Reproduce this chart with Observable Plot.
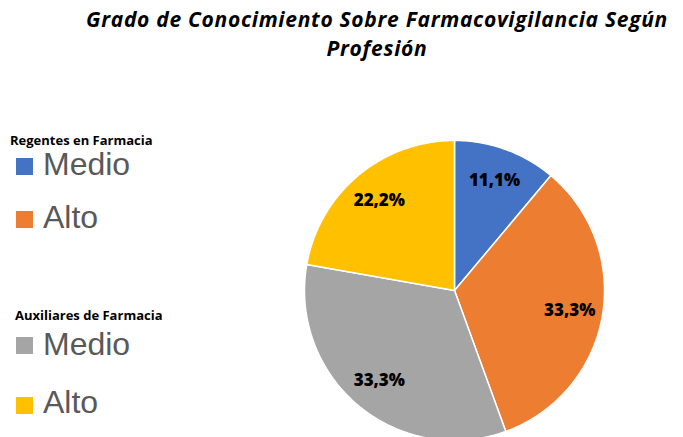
<!DOCTYPE html>
<html>
<head>
<meta charset="utf-8">
<script src="https://cdn.jsdelivr.net/npm/d3@7"></script>
<script src="https://cdn.jsdelivr.net/npm/@observablehq/plot@0.6"></script>
<style>
  html, body { margin: 0; padding: 0; background: #fff; }
  #wrap { position: relative; width: 683px; height: 437px; overflow: hidden; background: #fff; }
  .title { position: absolute; left: 0; width: 754px; text-align: center; font-family: "Open Sans", sans-serif; font-style: italic; font-weight: 700; font-size: 21px; letter-spacing: 0.7px; line-height: 29px; color: #000; white-space: nowrap; }
  .group { position: absolute; font-family: "Open Sans", sans-serif; font-weight: 700; font-size: 13px; line-height: 13px; color: #000; white-space: nowrap; }
  .item { position: absolute; font-family: "Liberation Sans", Arial, sans-serif; font-size: 32px; line-height: 32px; color: #595959; white-space: nowrap; }
  .sw { position: absolute; width: 17px; height: 17px; }
  #chart { position: absolute; left: 304px; top: 140px; }
</style>
</head>
<body>
<div id="wrap">
  <div class="title" style="top:5px">Grado de Conocimiento Sobre Farmacovigilancia Según</div>
  <div class="title" style="top:34px">Profesión</div>
  <div id="legend"></div>
  <div id="chart"></div>
</div>
<script>
// Data
const groups = ["Regentes en Farmacia", "Auxiliares de Farmacia"];
const levels = ["Medio", "Alto"];
const sliceGroup = ["Regentes en Farmacia", "Regentes en Farmacia", "Auxiliares de Farmacia", "Auxiliares de Farmacia"];
const sliceLevel = ["Medio", "Alto", "Medio", "Alto"];
const sliceCount = [1, 3, 3, 2];
const sliceColors = ["#4472C4", "#ED7D31", "#A5A5A5", "#FFC000"];

// Legend (HTML)
const legend = document.getElementById("legend");
const groupTops = [133.5, 308.5];
const itemTops = [[148, 201], [328, 386]];
const swTops = [[158, 211], [337, 397]];
groups.forEach((g, gi) => {
  const h = document.createElement("div");
  h.className = "group";
  h.style.left = (gi === 0 ? 10 : 15) + "px";
  h.style.top = groupTops[gi] + "px";
  h.textContent = g;
  legend.appendChild(h);
  levels.forEach((l, li) => {
    const idx = gi * 2 + li;
    const s = document.createElement("div");
    s.className = "sw";
    s.style.left = "16px";
    s.style.top = swTops[gi][li] + "px";
    s.style.background = sliceColors[idx];
    legend.appendChild(s);
    const t = document.createElement("div");
    t.className = "item";
    t.style.left = "43px";
    t.style.top = itemTops[gi][li] + "px";
    t.textContent = l;
    legend.appendChild(t);
  });
});

// Pie geometry via d3.pie
const keys = sliceGroup.map((g, i) => g + " " + sliceLevel[i]);
const total = d3.sum(sliceCount);
const pie = d3.pie().sort(null).value(d => d.count)(keys.map((k, i) => ({key: k, count: sliceCount[i]})));
const polys = [];
const labels = [];
pie.forEach(p => {
  const k = p.data.key;
  polys.push({key: k, x: 0, y: 0});
  const n = Math.max(2, Math.ceil((p.endAngle - p.startAngle) / (Math.PI / 180)));
  for (let j = 0; j <= n; j++) {
    const a = p.startAngle + (p.endAngle - p.startAngle) * j / n;
    polys.push({key: k, x: Math.sin(a), y: Math.cos(a)});
  }
  polys.push({key: k, x: 0, y: 0});
  const m = (p.startAngle + p.endAngle) / 2;
  const pct = (p.data.count / total * 100).toFixed(1).replace(".", ",") + "%";
  labels.push({key: k, x: 0.78 * Math.sin(m), y: 0.78 * Math.cos(m), text: pct});
});

const chart = Plot.plot({
  width: 300,
  height: 300,
  margin: 0,
  x: {domain: [-1, 1], axis: null},
  y: {domain: [-1, 1], axis: null},
  color: {domain: keys, range: sliceColors},
  style: {overflow: "visible"},
  marks: [
    Plot.line(polys, {x: "x", y: "y", z: "key", fill: "key", stroke: "white", strokeWidth: 1.5, strokeLinejoin: "round"}),
    Plot.text(labels, {x: "x", y: "y", text: "text", fill: "black", fontSize: 17, fontWeight: 800, fontFamily: "Open Sans, sans-serif"})
  ]
});
document.getElementById("chart").appendChild(chart);
</script>
</body>
</html>
